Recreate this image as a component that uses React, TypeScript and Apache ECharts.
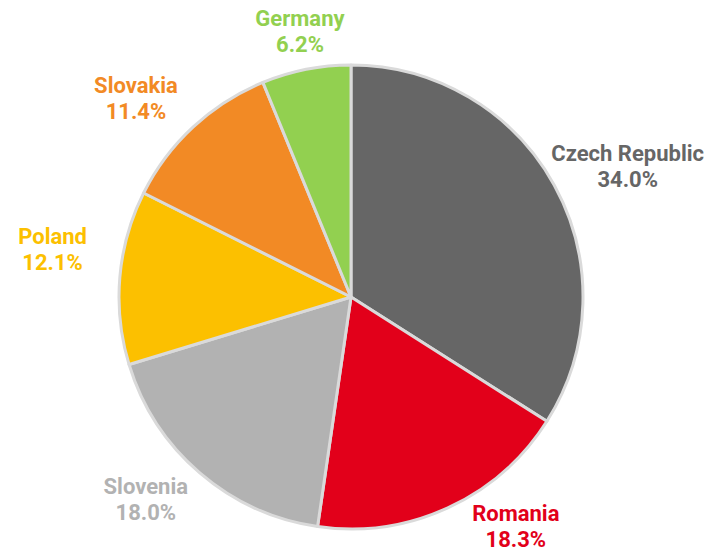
import React, { useEffect, useRef } from "react";
import * as echarts from "echarts";

const categories = ["Czech Republic", "Romania", "Slovenia", "Poland", "Slovakia", "Germany"];
const values = [34.0, 18.3, 18.0, 12.1, 11.4, 6.2];
const colors = ["#666666", "#e2001a", "#b2b2b2", "#fcc000", "#f28a25", "#92d050"];

const W = 705;
const H = 553;
const CX = 351;
const CY = 297;
const R = 232;
const LABEL_GAP = 13;

export default function App() {
  const ref = useRef<HTMLDivElement>(null);
  useEffect(() => {
    if (!ref.current) return;
    const chart = echarts.init(ref.current, null, { renderer: "svg" });
    const total = values.reduce((a, b) => a + b, 0);
    const cum: number[] = [];
    values.reduce((acc, v, i) => {
      cum[i] = acc;
      return acc + v;
    }, 0);
    // small manual label nudges (label placement only, like the original's hand-placed labels)
    const nudge: Record<string, [number, number]> = {
      Germany: [5, 0],
      Slovakia: [-20, 0],
      Poland: [-20, -25],
      Slovenia: [-18, -3],
      Romania: [-16, 2],
    };
    chart.setOption({
      animation: false,
      backgroundColor: "#ffffff",
      series: [
        {
          type: "pie",
          center: [CX, CY],
          radius: R,
          startAngle: 90,
          clockwise: true,
          data: categories.map((name, i) => ({
            name,
            value: values[i],
            itemStyle: { color: colors[i] },
            label: { color: colors[i] },
          })),
          itemStyle: { borderColor: "#dadada", borderWidth: 3 },
          label: {
            show: true,
            position: "outside",
            fontFamily: "Roboto",
            fontWeight: "bold",
            fontSize: 22,
            lineHeight: 26,
            overflow: "none",
            edgeDistance: 0,
            formatter: (p: any) => `${p.name}\n${p.value.toFixed(1)}%`,
          },
          labelLine: { show: false },
          labelLayout: (p: any) => {
            const i = p.dataIndex;
            const mid = ((cum[i] + values[i] / 2) / total) * Math.PI * 2;
            const s = Math.sin(mid);
            const c = Math.cos(mid);
            const w = p.labelRect.width;
            const h = p.labelRect.height;
            const A = R + LABEL_GAP;
            let x = CX + (A + w / 2) * s;
            let y = CY - (A + h / 2) * c;
            const maxY = H - h / 2 - 1;
            const minY = h / 2 + 1;
            if (y > maxY || y < minY) {
              y = Math.min(maxY, Math.max(minY, y));
              const dy = Math.min(Math.abs(y - CY), Math.abs(y - h / 2 - CY), Math.abs(y + h / 2 - CY));
              const dxNeed = Math.sqrt(Math.max(0, A * A - dy * dy));
              if (s >= 0) x = Math.max(x, CX + dxNeed + w / 2);
              else x = Math.min(x, CX - dxNeed - w / 2);
            }
            const n = nudge[categories[i]] || [0, 0];
            x += n[0];
            y += n[1];
            x = Math.min(W - w / 2 - 1, Math.max(w / 2 + 1, x));
            y = Math.min(maxY, Math.max(minY, y));
            return { x, y, align: "center", verticalAlign: "middle" };
          },
          emphasis: { disabled: true },
        },
      ],
    });
    return () => chart.dispose();
  }, []);
  return (
    <div
      ref={ref}
      style={{ position: "absolute", left: 0, top: 0, width: W, height: H }}
    />
  );
}
